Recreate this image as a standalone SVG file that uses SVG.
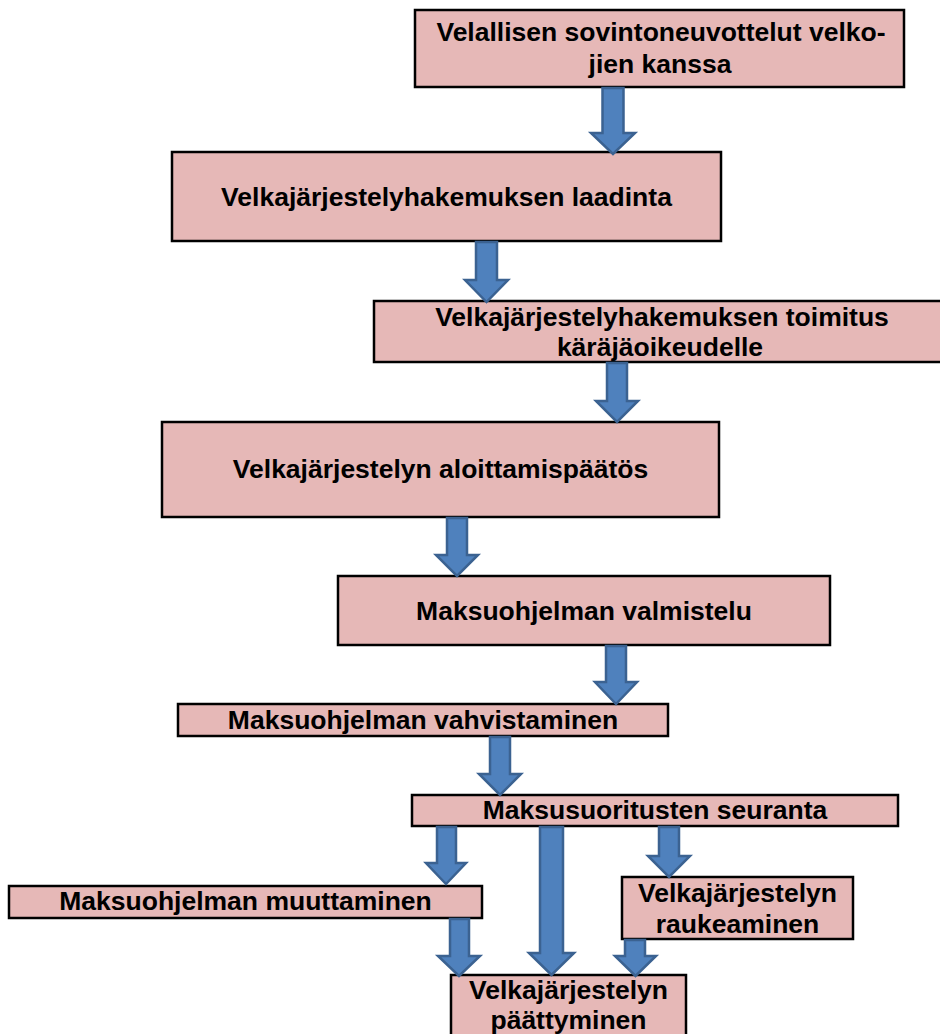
<svg xmlns="http://www.w3.org/2000/svg" width="940" height="1034" viewBox="0 0 940 1034">
<style>
.box{fill:#e6b8b7;stroke:#000;stroke-width:2.5}
.arr{fill:#4f81bd;stroke:#3b6291;stroke-width:2.5;stroke-linejoin:miter}
text{font-family:"Liberation Sans",Arial,sans-serif;font-weight:bold;font-size:26.5px;text-anchor:middle;fill:#000}
</style>
<rect width="940" height="1034" fill="#fff"/>
<g id="n1"><rect class="box" x="415" y="10" width="489" height="77"/><text x="661" y="41">Velallisen sovintoneuvottelut velko-</text><text x="660" y="73">jien kanssa</text></g>
<g id="n2"><rect class="box" x="172" y="152" width="549" height="89"/><text x="446.5" y="206">Velkajärjestelyhakemuksen laadinta</text></g>
<g id="n3"><rect class="box" x="374" y="301" width="574" height="61"/><text x="662" y="326">Velkajärjestelyhakemuksen toimitus</text><text x="660" y="356">käräjäoikeudelle</text></g>
<g id="n4"><rect class="box" x="162" y="422" width="557" height="95"/><text x="440.5" y="478">Velkajärjestelyn aloittamispäätös</text></g>
<g id="n5"><rect class="box" x="338" y="576" width="492" height="69"/><text x="584" y="620">Maksuohjelman valmistelu</text></g>
<g id="n6"><rect class="box" x="178" y="704" width="490" height="32"/><text x="423" y="729">Maksuohjelman vahvistaminen</text></g>
<g id="n7"><rect class="box" x="412" y="795" width="486" height="31"/><text x="655" y="819">Maksusuoritusten seuranta</text></g>
<g id="n8"><rect class="box" x="9" y="886" width="473" height="32"/><text x="245.5" y="910">Maksuohjelman muuttaminen</text></g>
<g id="n9"><rect class="box" x="622" y="877" width="231" height="62"/><text x="737.5" y="902">Velkajärjestelyn</text><text x="737.5" y="933">raukeaminen</text></g>
<g id="n10"><rect class="box" x="451" y="975" width="235" height="70"/><text x="568.5" y="999">Velkajärjestelyn</text><text x="568.5" y="1028.5" font-size="25.5">päättyminen</text></g>
<g id="connectors">
<path class="arr" d="M602.5,88 H623.5 V133 H635 L613,154 L591,133 H602.5 Z"/>
<path class="arr" d="M476,242 H497 V280 H508 L486.5,302 L465,280 H476 Z"/>
<path class="arr" d="M607,363 H627 V401 H638 L617,422 L596,401 H607 Z"/>
<path class="arr" d="M447,518 H467 V555 H478 L457,576 L436,555 H447 Z"/>
<path class="arr" d="M606,646 H626 V682 H637 L616,704 L595,682 H606 Z"/>
<path class="arr" d="M490,737 H510 V774 H521 L500,795 L479,774 H490 Z"/>
<path class="arr" d="M437,827 H456 V863 H466 L446,884 L426,863 H437 Z"/>
<path class="arr" d="M540,827 H563 V953 H574 L551.5,975 L529,953 H540 Z"/>
<path class="arr" d="M659,827 H679 V856 H690 L669,877 L648,856 H659 Z"/>
<path class="arr" d="M450,919 H469 V956 H480 L459,976 L438,956 H450 Z"/>
<path class="arr" d="M625,940 H645 V956 H656 L635.5,976 L615,956 H625 Z"/>
</g>
</svg>
